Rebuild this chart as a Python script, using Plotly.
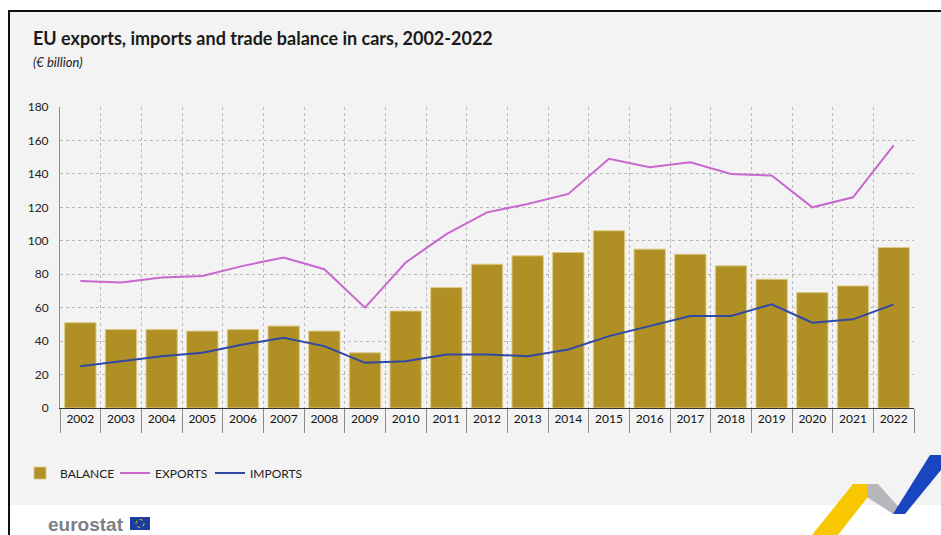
import plotly.graph_objects as go

years = [str(y) for y in range(2002, 2023)]
balance = [51, 47, 47, 46, 47, 49, 46, 33, 58, 72, 86, 91, 93, 106, 95, 92, 85, 77, 69, 73, 96]
exports = [76, 75, 78, 79, 85, 90, 83, 60, 87, 104, 117, 122, 128, 149, 144, 147, 140, 139, 120, 126, 157]
imports = [25, 28, 31, 33, 38, 42, 37, 27, 28, 32, 32, 31, 35, 43, 49, 55, 55, 62, 51, 53, 62]

W, H = 941, 535
L, R, T, B = 60, 914, 107, 408  # plot area pixels

def px(x):
    return (x - L) / (R - L)

def py(y):
    return (B - y) / (B - T)

FONT = "Lato, Roboto, sans-serif"

fig = go.Figure()
fig.add_trace(go.Bar(
    x=years, y=balance, name="BALANCE",
    marker=dict(color="#b08f24", line=dict(color="#dccb86", width=1)),
))
fig.add_trace(go.Scatter(
    x=years, y=exports, name="EXPORTS", mode="lines",
    line=dict(color="#c867cf", width=2),
))
fig.add_trace(go.Scatter(
    x=years, y=imports, name="IMPORTS", mode="lines",
    line=dict(color="#2f48a6", width=2),
))

shapes = [
    dict(type="rect", xref="paper", yref="paper", x0=px(10), x1=px(941), y0=py(505), y1=py(11),
         fillcolor="#f3f3f3", line=dict(width=0), layer="below"),
    dict(type="line", xref="paper", yref="paper", x0=px(9), x1=px(941), y0=py(11), y1=py(11),
         line=dict(color="#111", width=2)),
    dict(type="line", xref="paper", yref="paper", x0=px(9), x1=px(9), y0=py(10), y1=py(535),
         line=dict(color="#111", width=2)),
    dict(type="path", xref="paper", yref="paper",
         path=f"M {px(812)},{py(535)} L {px(853)},{py(484)} L {px(878)},{py(484)} L {px(838)},{py(535)} Z",
         fillcolor="#f9c700", line=dict(width=0)),
    dict(type="path", xref="paper", yref="paper",
         path=f"M {px(868)},{py(484)} L {px(878)},{py(484)} L {px(905)},{py(514)} L {px(893)},{py(514)} L {px(867)},{py(497)} Z",
         fillcolor="#b5b7ba", line=dict(width=0)),
    dict(type="path", xref="paper", yref="paper",
         path=f"M {px(893)},{py(514)} L {px(930)},{py(455)} L {px(941)},{py(455)} L {px(941)},{py(470)} L {px(905)},{py(514)} Z",
         fillcolor="#1946c0", line=dict(width=0)),
    dict(type="rect", xref="paper", yref="paper", x0=px(130), x1=px(150), y0=py(530), y1=py(517),
         fillcolor="#1a3fa0", line=dict(width=0)),
    dict(type="circle", xref="paper", yref="paper", x0=px(136), x1=px(144), y0=py(527.5), y1=py(519.5),
         fillcolor="rgba(0,0,0,0)", line=dict(color="#f2c200", width=1, dash="dot")),
]

annotations = [
    dict(text="<b>EU exports, imports and trade balance in cars, 2002-2022</b>", xref="paper", yref="paper",
         x=px(31), y=py(38), xanchor="left", yanchor="middle", showarrow=False,
         font=dict(family=FONT, size=18, color="#1a1a1a")),
    dict(text="<i>(€ billion)</i>", xref="paper", yref="paper",
         x=px(31), y=py(62), xanchor="left", yanchor="middle", showarrow=False,
         font=dict(family=FONT, size=13, color="#1a1a1a")),
    dict(text="<b>eurostat</b>", xref="paper", yref="paper",
         x=px(46), y=py(524), xanchor="left", yanchor="middle", showarrow=False,
         font=dict(family="Liberation Sans, Arial, sans-serif", size=19, color="#7d7f84")),
]

fig.update_layout(
    width=W, height=H,
    margin=dict(l=L, r=W - R, t=T, b=H - B),
    paper_bgcolor="white", plot_bgcolor="#f3f3f3",
    font=dict(family=FONT, size=11, color="#222"),
    bargap=0.23,
    showlegend=True,
    legend=dict(orientation="h", x=px(20), y=py(473), xanchor="left", yanchor="middle",
                bgcolor="rgba(0,0,0,0)", font=dict(family=FONT, size=12, color="#222"),
                itemwidth=30, entrywidth=50, traceorder="normal"),
    shapes=shapes, annotations=annotations,
    xaxis=dict(type="category", tickson="boundaries", ticks="outside", ticklen=24,
               tickcolor="#8a8a8a", showline=True, linecolor="#333", linewidth=1,
               showgrid=True, gridcolor="#b9b9b9", griddash="dot", gridwidth=1,
               tickfont=dict(family=FONT, size=12, color="#111"), fixedrange=True),
    yaxis=dict(range=[0, 180], dtick=20, showline=True, linecolor="#8a8a8a", linewidth=1,
               showgrid=True, gridcolor="#b9b9b9", griddash="dot", gridwidth=1,
               zeroline=False, ticks="", ticklabelstandoff=8,
               tickfont=dict(family=FONT, size=12, color="#222")),
)

fig.write_html("out.html", config={"displayModeBar": False},
               post_script="document.body.style.margin='0';")
